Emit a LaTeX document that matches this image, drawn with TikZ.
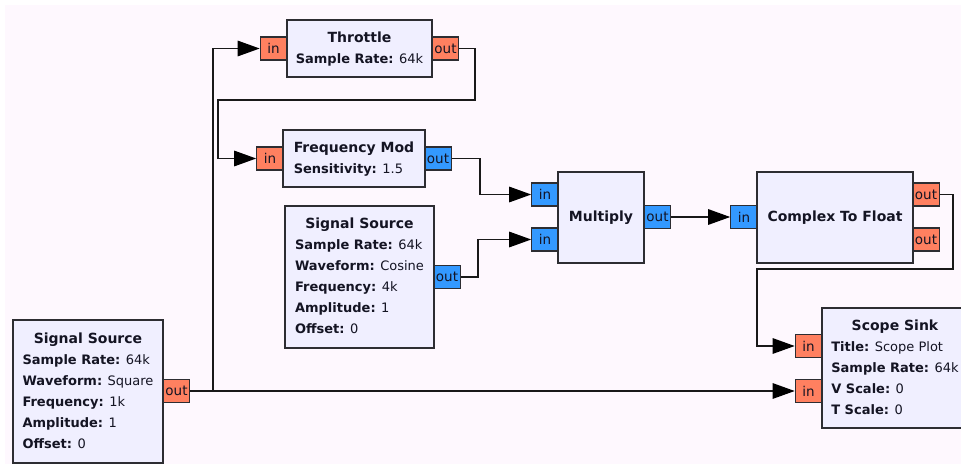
\documentclass[tikz,border=0pt]{standalone}
\usepackage{fontspec}
\setmainfont{DejaVu Sans}
\usetikzlibrary{arrows.meta}

\definecolor{canvas}{RGB}{254,248,254}
\definecolor{blockfill}{RGB}{240,239,255}
\definecolor{edgegray}{RGB}{45,45,50}
\definecolor{wireink}{RGB}{25,25,25}
\definecolor{floatport}{RGB}{255,128,96}
\definecolor{cplxport}{RGB}{51,153,255}
\definecolor{inktext}{RGB}{20,20,35}

% block body helpers: centred bold title, then "name: value" rows
\newcommand{\grctitle}[1]{\multicolumn{1}{@{}c@{}}{\fontsize{14}{21}\selectfont\bfseries #1}}
\newcommand{\grcparam}[2]{\textbf{#1:} #2}

\tikzset{
  block/.style={draw=edgegray, line width=1.3pt, fill=blockfill, inner sep=0pt,
    text=inktext, font=\fontsize{13}{21}\selectfont},
  port/.style={draw=edgegray, line width=1.1pt, inner sep=0pt,
    minimum width=26.5pt, minimum height=23pt, text=inktext,
    font=\fontsize{13.5}{15}\selectfont},
  fport/.style={port, fill=floatport},
  cport/.style={port, fill=cplxport},
  wire/.style={draw=wireink, line width=1.3pt},
  feed/.style={wire, -{Triangle[length=22pt,width=15.5pt,color=black]}},
}

\begin{document}
\begin{tikzpicture}[x=1pt, y=-1pt]
\useasboundingbox (0,0) rectangle (961,464);
\clip (0,0) rectangle (961,464);
\fill[white] (0,0) rectangle (961,464);
\fill[canvas] (5,5) rectangle (961,464);

% ---- ports ----
\node[fport] (thrin)  at (273.5,48.5) {in};
\node[fport] (throut) at (445.5,48.5) {out};
\node[fport] (fmin)   at (270,158.5) {in};
\node[cport] (fmout)  at (438,158.5) {out};
\node[cport] (ss2out) at (447,277) {out};
\node[cport] (mulin1) at (545,194.5) {in};
\node[cport] (mulin2) at (545,239.5) {in};
\node[cport] (mulout) at (657.5,217) {out};
\node[cport] (cfin)   at (744,217) {in};
\node[fport] (cfout1) at (926,194.5) {out};
\node[fport] (cfout2) at (926,239.5) {out};
\node[fport] (scin1)  at (808.5,346) {in};
\node[fport] (scin2)  at (808.5,391) {in};
\node[fport] (ss1out) at (176.5,391) {out};

% ---- blocks ----
\node[block, minimum width=145pt, minimum height=57pt] (thr) at (359.5,48.5)
  {\begin{tabular}{@{}l@{}}\grctitle{Throttle}\\ \grcparam{Sample Rate}{64k}\end{tabular}};
\node[block, minimum width=142pt, minimum height=57pt] (fm) at (354,158.5)
  {\begin{tabular}{@{}l@{}}\grctitle{Frequency Mod}\\ \grcparam{Sensitivity}{1.5}\end{tabular}};
\node[block, minimum width=149pt, minimum height=142pt] (ss2) at (359.5,277)
  {\begin{tabular}{@{}l@{}}\grctitle{Signal Source}\\ \grcparam{Sample Rate}{64k}\\
   \grcparam{Waveform}{Cosine}\\ \grcparam{Frequency}{4k}\\ \grcparam{Amplitude}{1}\\
   \grcparam{Offset}{0}\end{tabular}};
\node[block, minimum width=86pt, minimum height=91pt] (mul) at (601,217.5)
  {\fontsize{14}{21}\selectfont\bfseries Multiply};
\node[block, minimum width=156pt, minimum height=91pt] (cf) at (835,217.5)
  {\fontsize{14}{21}\selectfont\bfseries Complex To Float};
\node[block, minimum width=146pt, minimum height=120pt] (sc) at (895,368)
  {\begin{tabular}{@{}l@{}}\grctitle{Scope Sink}\\ \grcparam{Title}{Scope Plot}\\
   \grcparam{Sample Rate}{64k}\\ \grcparam{V Scale}{0}\\ \grcparam{T Scale}{0}\end{tabular}};
\node[block, minimum width=150pt, minimum height=143pt] (ss1) at (88,391.5)
  {\begin{tabular}{@{}l@{}}\grctitle{Signal Source}\\ \grcparam{Sample Rate}{64k}\\
   \grcparam{Waveform}{Square}\\ \grcparam{Frequency}{1k}\\ \grcparam{Amplitude}{1}\\
   \grcparam{Offset}{0}\end{tabular}};

% ---- routing points ----
\coordinate (tap)     at (213,391);
\coordinate (thrloop) at (475,100);
\coordinate (fmdrop)  at (218,100);
\coordinate (fmbend)  at (480,194.5);
\coordinate (ssbend)  at (478,239.5);
\coordinate (cfloop)  at (953,269);
\coordinate (scdrop)  at (757,269);

% ---- connections ----
\draw[feed] (ss1out.east) -- (scin2.west);
\draw[feed] (tap) |- (thrin.west);
\draw[feed] (throut.east) -| (thrloop) -- (fmdrop) |- (fmin.west);
\draw[feed] (fmout.east) -| (fmbend) -- (mulin1.west);
\draw[feed] (ss2out.east) -| (ssbend) -- (mulin2.west);
\draw[feed] (mulout.east) -- (cfin.west);
\draw[feed] (cfout1.east) -| (cfloop) -- (scdrop) |- (scin1.west);
\end{tikzpicture}
\end{document}
